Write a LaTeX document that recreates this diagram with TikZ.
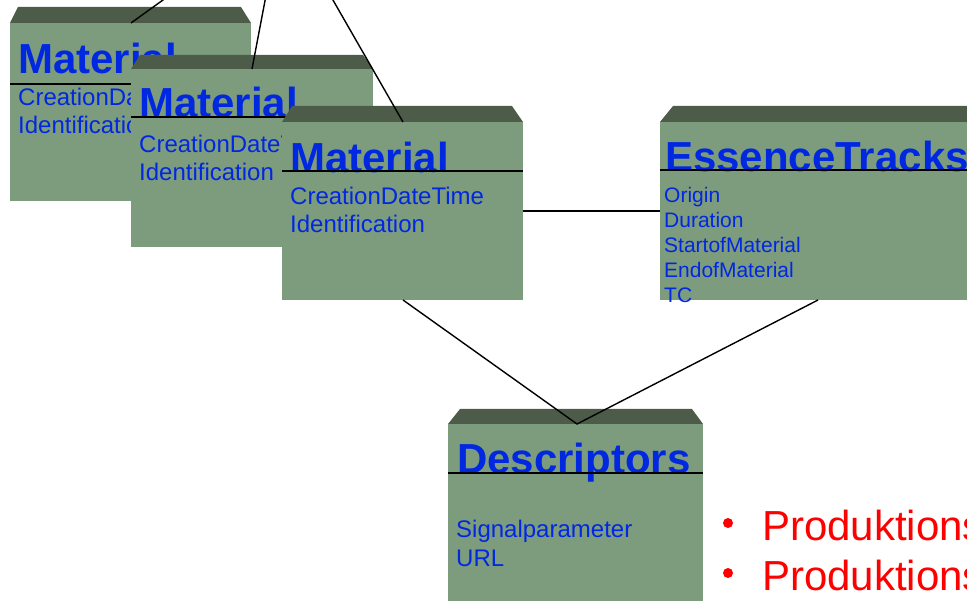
\documentclass[tikz,border=0pt]{standalone}
\usepackage{fontspec}
\setmainfont{Liberation Sans}
\definecolor{bodygreen}{RGB}{125,155,125}
\definecolor{banddark}{RGB}{76,92,72}
\definecolor{txtblue}{RGB}{0,40,225}
\definecolor{bulletred}{RGB}{255,0,0}
\begin{document}
\begin{tikzpicture}[x=1pt,y=-1pt,
  boxbody/.style={fill=bodygreen, draw=none, inner sep=0pt, anchor=north west},
  title/.style={anchor=base west, inner sep=0pt, text=txtblue, font=\fontsize{42}{42}\selectfont\bfseries},
  attr/.style={anchor=base west, inner sep=0pt, text=txtblue, font=\fontsize{24}{24}\selectfont},
  attrsmall/.style={anchor=base west, inner sep=0pt, text=txtblue, font=\fontsize{21}{21}\selectfont},
  bullettxt/.style={anchor=base west, inner sep=0pt, text=bulletred, font=\fontsize{42}{42}\selectfont},
  bulletdot/.style={circle, fill=bulletred, draw=none, inner sep=0pt, minimum size=10pt},
  conn/.style={draw=black, line width=1.4pt},
  rule/.style={draw=black, line width=1.4pt}]
\useasboundingbox (0,0) rectangle (967,601);
\clip (0,0) rectangle (967,601);

% ---- Material box 1 ----
\fill[banddark] (10,23) -- (18,7) -- (241,7) -- (251,23) -- cycle;
\node[boxbody, minimum width=241pt, minimum height=178pt] (m1) at (10,23) {};
\node[title] (m1t) at (18,74) {Material};
\draw[rule] (10,84) -- (251,84);
\node[attr] (m1a) at (18,106) {CreationDateTime};
\node[attr] (m1b) at (18,134) {Identification};

% ---- Material box 2 ----
\fill[banddark] (131,69) -- (140,55) -- (363,55) -- (373,69) -- cycle;
\node[boxbody, minimum width=242pt, minimum height=178pt] (m2) at (131,69) {};
\node[title] (m2t) at (139,118) {Material};
\draw[rule] (131,117) -- (373,117);
\node[attr] (m2a) at (139,153) {CreationDateTime};
\node[attr] (m2b) at (139,181) {Identification};

% ---- Material box 3 ----
\fill[banddark] (282,122) -- (292,106) -- (512,106) -- (523,122) -- cycle;
\node[boxbody, minimum width=241pt, minimum height=178pt] (m3) at (282,122) {};
\node[title] (m3t) at (290,173) {Material};
\draw[rule] (282,171) -- (523,171);
\node[attr] (m3a) at (290,205) {CreationDateTime};
\node[attr] (m3b) at (290,233) {Identification};

% connectors to the parent above (off picture)
\coordinate (p1) at (195,-23);
\coordinate (p2) at (268,-15);
\coordinate (p3) at (318,-26);
\coordinate (t1) at (131,23);
\coordinate (t2) at (252,69);
\coordinate (t3) at (403,122);
\draw[conn] (t1) -- (p1);
\draw[conn] (t2) -- (p2);
\draw[conn] (t3) -- (p3);

% ---- EssenceTracks ----
\fill[banddark] (660,122) -- (673,106) -- (990,106) -- (990,122) -- cycle;
\node[boxbody, minimum width=330pt, minimum height=178pt] (et) at (660,122) {};
\node[title] (ett) at (665,172) {EssenceTracks};
\draw[rule] (660,170) -- (990,170);
\node[attrsmall] (eta) at (664,203) {Origin};
\node[attrsmall] (etb) at (664,228) {Duration};
\node[attrsmall] (etc) at (664,253) {StartofMaterial};
\node[attrsmall] (etd) at (664,278) {EndofMaterial};
\node[attrsmall] (ete) at (664,303) {TC};

% ---- Descriptors ----
\fill[banddark] (448,424) -- (460,409) -- (692,409) -- (703,424) -- cycle;
\node[boxbody, minimum width=255pt, minimum height=200pt] (de) at (448,424) {};
\node[title] (det) at (457,474) {Descriptors};
\draw[rule] (448,473) -- (703,473);
\node[attr] (dea) at (456,537) {Signalparameter};
\node[attr] (deb) at (456,566) {URL};

% ---- connectors between boxes ----
\coordinate (m3r) at (523,211);
\coordinate (etl) at (660,211);
\coordinate (m3bot) at (403,300);
\coordinate (etbot) at (818,300);
\coordinate (detop) at (577,424);
\draw[conn] (m3r) -- (etl);
\draw[conn] (m3bot) -- (detop) -- (etbot);

% ---- bullets ----
\node[bulletdot] (b1) at (728,523) {};
\node[bullettxt] (b1t) at (762,540) {Produktions};
\node[bulletdot] (b2) at (728,573) {};
\node[bullettxt] (b2t) at (762,590) {Produktions};
\end{tikzpicture}
\end{document}
